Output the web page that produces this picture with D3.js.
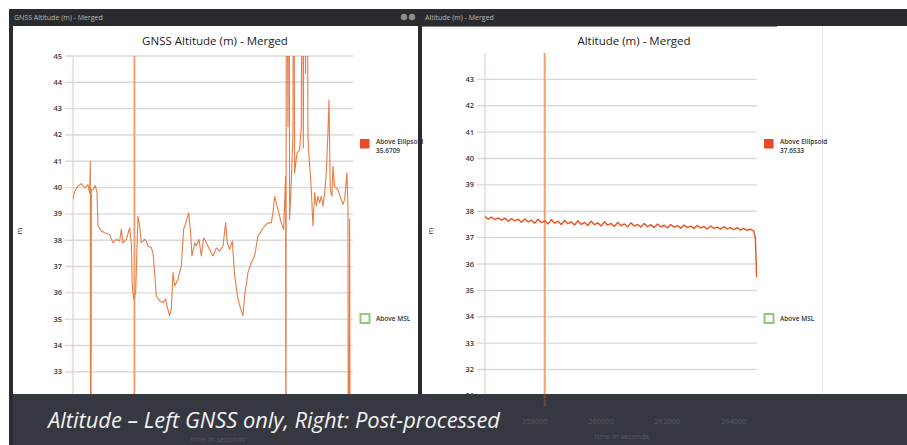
<!DOCTYPE html>
<html>
<head>
<meta charset="utf-8">
<script src="https://cdn.jsdelivr.net/npm/d3@7"></script>
<style>
  body { margin: 0; background: #fff; }
  svg { display: block; font-family: "Open Sans", "Noto Sans", sans-serif; }
</style>
</head>
<body>
<script>
// GNSS only altitude (left), time in seconds / metres
let leftTime = [256500, 256549, 256646, 256744, 256842, 256939, 256988, 257008, 257017, 257037, 257086, 257154, 257203, 257232,
  257330, 257427, 257574, 257671, 257769, 257866, 257915, 257964, 258062, 258159, 258208, 258237, 258276, 258335, 258403,
  258452, 258501, 258598, 258647, 258696, 258794, 258842, 258891, 258940, 259038, 259135, 259213, 259252, 259330, 259379,
  259428, 259477, 259574, 259672, 259740, 259818, 259887, 259945, 259984, 260062, 260111, 260189, 260258, 260326, 260404,
  260502, 260599, 260697, 260794, 260892, 260970, 261019, 261087, 261165, 261234, 261331, 261400, 261478, 261526, 261624,
  261722, 261819, 261917, 262014, 262112, 262210, 262307, 262356, 262405, 262502, 262600, 262668, 262727, 262737, 262746,
  262795, 262824, 262844, 262893, 262942, 262961, 262990, 263059, 263137, 263186, 263215, 263244, 263283, 263312, 263352,
  263381, 263410, 263449, 263478, 263527, 263576, 263625, 263674, 263722, 263771, 263820, 263869, 263918, 263966, 263996,
  264035, 264083, 264113, 264162, 264259, 264357, 264406, 264455, 264523, 264552, 264572, 264601, 264630];
let leftAlt = [39.55, 39.86, 40.05, 40.15, 39.99, 40.11, 39.8, 41.0, 20, 39.92, 39.92, 40.08, 39.8, 38.54,
  38.35, 38.28, 38.22, 37.9, 38.03, 37.97, 38.41, 37.9, 38.03, 38.47, 37.9, 36.26, 35.76, 36.0, 38.91,
  38.54, 37.9, 38.03, 37.97, 37.78, 37.71, 37.53, 36.77, 35.88, 35.69, 35.63, 35.76, 35.5, 35.13, 35.38,
  36.77, 36.26, 36.52, 37.02, 38.41, 38.72, 39.04, 38.28, 37.4, 37.9, 37.78, 38.03, 37.4, 38.09, 37.9,
  37.65, 37.4, 37.71, 37.59, 37.78, 38.66, 37.9, 37.65, 37.97, 36.64, 35.76, 35.44, 35.13, 35.88, 36.77,
  37.15, 37.4, 38.16, 38.35, 38.54, 38.66, 38.66, 39.04, 39.67, 39.17, 38.66, 38.41, 40.43, 20, 55,
  42.32, 55, 38.79, 40.18, 42.07, 55, 40.56, 41.31, 41.44, 42.32, 55, 41.5, 55, 44.34,
  55, 42.0, 41.19, 40.56, 39.92, 38.54, 39.8, 39.3, 39.67, 39.42, 39.67, 39.3, 39.8, 40.56, 42.07, 43.33,
  39.92, 39.67, 40.81, 40.05, 39.92, 39.55, 39.36, 39.55, 40.56, 39.3, 20, 38.8, 20];

// post-processed altitude (right)
let rightTime = [256500, 256600, 256700, 256800, 256900, 257000, 257100, 257200, 257300, 257400, 257500, 257600, 257700,
  257800, 257900, 258000, 258100, 258200, 258300, 258400, 258500, 258600, 258700, 258800, 258900, 259000, 259100, 259200,
  259300, 259400, 259500, 259600, 259700, 259800, 259900, 260000, 260100, 260200, 260300, 260400, 260500, 260600, 260700,
  260800, 260900, 261000, 261100, 261200, 261300, 261400, 261500, 261600, 261700, 261800, 261900, 262000, 262100, 262200,
  262300, 262400, 262500, 262600, 262700, 262800, 262900, 263000, 263100, 263200, 263300, 263400, 263500, 263600, 263700,
  263800, 263900, 264000, 264100, 264200, 264300, 264400, 264500, 264600, 264650, 264690];
let rightAlt = [37.80, 37.70, 37.78, 37.68, 37.75, 37.66, 37.74, 37.62, 37.72, 37.64, 37.70, 37.58, 37.71, 37.60, 37.66,
  37.55, 37.70, 37.57, 37.64, 37.52, 37.68, 37.55, 37.62, 37.50, 37.66, 37.53, 37.60, 37.48, 37.64, 37.50, 37.58, 37.46,
  37.62, 37.49, 37.56, 37.44, 37.60, 37.47, 37.54, 37.42, 37.58, 37.45, 37.52, 37.41, 37.56, 37.44, 37.50, 37.40, 37.54,
  37.42, 37.49, 37.38, 37.52, 37.41, 37.47, 37.37, 37.50, 37.40, 37.46, 37.36, 37.48, 37.38, 37.44, 37.35, 37.46, 37.37,
  37.42, 37.33, 37.44, 37.35, 37.40, 37.32, 37.42, 37.33, 37.38, 37.30, 37.38, 37.29, 37.35, 37.28, 37.32, 37.25,
  37.00, 35.50];

let cursorTime = 258300;
let leftTicks = [32, 33, 34, 35, 36, 37, 38, 39, 40, 41, 42, 43, 44, 45];
let rightTicks = [31, 32, 33, 34, 35, 36, 37, 38, 39, 40, 41, 42, 43];
let timeTicks = [258000, 260000, 262000, 264000];
let legendValues = ["35.6709", "37.6533"];
let caption = "Altitude \u2013 Left GNSS only, Right: Post-processed";

let W = 907, H = 445;
let svg = d3.select("body").append("svg").attr("width", W).attr("height", H);

// window frames
svg.append("rect").attr("x", 9).attr("y", 9).attr("width", W - 9).attr("height", H - 9).attr("fill", "#2a2b2f");
svg.append("rect").attr("x", 13).attr("y", 26).attr("width", 405).attr("height", H - 26).attr("fill", "#fff");
svg.append("rect").attr("x", 422).attr("y", 26).attr("width", W - 422).attr("height", H - 26).attr("fill", "#fff");
svg.append("line").attr("x1", 822.5).attr("x2", 822.5).attr("y1", 26).attr("y2", H).attr("stroke", "#e6e6e6");
svg.append("line").attr("x1", 422).attr("x2", 777).attr("y1", 26.5).attr("y2", 26.5).attr("stroke", "#8a8a8a");

svg.append("text").attr("x", 14).attr("y", 20).attr("font-size", 7).attr("fill", "#b8b8b8").text("GNSS Altitude (m) - Merged");
svg.append("text").attr("x", 425).attr("y", 20).attr("font-size", 7).attr("fill", "#b8b8b8").text("Altitude (m) - Merged");
svg.append("circle").attr("cx", 404).attr("cy", 17).attr("r", 3.2).attr("fill", "#8d8d8d");
svg.append("circle").attr("cx", 412).attr("cy", 17).attr("r", 3.2).attr("fill", "#8d8d8d");

function drawPanel(opt) {
  let g = svg.append("g");
  let x = d3.scaleLinear().domain([256500, 264700]).range([opt.left, opt.right]);
  let y = d3.scaleLinear().domain(opt.yDomain).range([opt.bottom, opt.top]);

  let clipId = "clip" + opt.id;
  g.append("clipPath").attr("id", clipId).append("rect")
    .attr("x", opt.left).attr("y", opt.top).attr("width", opt.right - opt.left).attr("height", opt.bottom - opt.top);

  // title
  g.append("text").attr("x", opt.titleX).attr("y", 45).attr("text-anchor", "middle")
    .attr("font-size", 11.5).attr("fill", "#222").text(opt.title);

  // grid + y labels
  g.selectAll(".grid").data(opt.ticks).enter().append("line")
    .attr("x1", opt.left - 8).attr("x2", opt.right)
    .attr("y1", d => y(d)).attr("y2", d => y(d))
    .attr("stroke", "#dadada").attr("stroke-width", 1.4);
  g.selectAll(".ylab").data(opt.ticks).enter().append("text")
    .attr("x", opt.left - 11).attr("y", d => y(d) + 2.5).attr("text-anchor", "end")
    .attr("font-size", 7.5).attr("font-weight", 600).attr("fill", "#3a3a3a").text(d => d);

  g.append("line").attr("x1", opt.left).attr("x2", opt.left).attr("y1", opt.top).attr("y2", opt.bottom)
    .attr("stroke", "#e7cfc6").attr("stroke-width", 1.2);
  g.append("line").attr("x1", opt.left).attr("x2", opt.right).attr("y1", opt.bottom).attr("y2", opt.bottom)
    .attr("stroke", "#d0d0d0");

  g.append("text").attr("transform", "translate(" + opt.mX + ",231) rotate(-90)")
    .attr("text-anchor", "middle").attr("font-size", 7).attr("fill", "#333").text("m");

  // cursor
  g.append("line").attr("x1", x(cursorTime)).attr("x2", x(cursorTime)).attr("y1", opt.top).attr("y2", opt.bottom)
    .attr("stroke", "#f2a16b").attr("stroke-width", 2);

  let line = d3.line().x((d, i) => x(opt.time[i])).y(d => y(d));
  g.append("path").datum(opt.values).attr("d", line).attr("clip-path", "url(#" + clipId + ")")
    .attr("fill", "none").attr("stroke", opt.color).attr("stroke-width", opt.width).attr("stroke-linejoin", "round");

  // legend
  let lx = opt.legendX;
  g.append("rect").attr("x", lx).attr("y", 139).attr("width", 9.5).attr("height", 9.5).attr("fill", "#e64a26");
  g.append("text").attr("x", lx + 16).attr("y", 144).attr("font-size", 6.5).attr("font-weight", 600).attr("fill", "#333").text("Above Ellipsoid");
  g.append("text").attr("x", lx + 16).attr("y", 153).attr("font-size", 6.5).attr("font-weight", 600).attr("fill", "#333").text(opt.legendValue);
  g.append("rect").attr("x", lx + 0.5).attr("y", 314).attr("width", 9).attr("height", 9)
    .attr("fill", "#fff").attr("stroke", "#8fc97a").attr("stroke-width", 2);
  g.append("text").attr("x", lx + 16).attr("y", 321).attr("font-size", 6.5).attr("font-weight", 600).attr("fill", "#333").text("Above MSL");

  return x;
}

let xLeft = drawPanel({ id: "L", left: 73, right: 353, top: 56, bottom: 406, yDomain: [31.7, 45],
  ticks: leftTicks, time: leftTime, values: leftAlt, color: "#e97c45", width: 1.1,
  title: "GNSS Altitude (m) - Merged", titleX: 215, mX: 22, legendX: 360, legendValue: legendValues[0] });
let xRight = drawPanel({ id: "R", left: 485, right: 757, top: 53, bottom: 407, yDomain: [30.58, 44],
  ticks: rightTicks, time: rightTime, values: rightAlt, color: "#e9521f", width: 1.4,
  title: "Altitude (m) - Merged", titleX: 634, mX: 433, legendX: 764, legendValue: legendValues[1] });

// clip left panel contents at its frame
svg.append("rect").attr("x", 418).attr("y", 9).attr("width", 4).attr("height", H - 9).attr("fill", "#2a2b2f");
svg.append("rect").attr("x", 0).attr("y", 9).attr("width", 9).attr("height", H - 9).attr("fill", "#fff");
svg.append("rect").attr("x", 9).attr("y", 9).attr("width", 4).attr("height", H - 9).attr("fill", "#2a2b2f");

// caption band
svg.append("rect").attr("x", 13).attr("y", 394).attr("width", W - 13).attr("height", H - 394).attr("fill", "#353841");
svg.append("line").attr("x1", xRight(cursorTime)).attr("x2", xRight(cursorTime)).attr("y1", 394).attr("y2", 407)
  .attr("stroke", "#6a4a3e").attr("stroke-width", 2);

// right time axis shows faintly through the band; left one is hidden under the caption
svg.selectAll(null).data(timeTicks).enter().append("text")
  .attr("x", d => xRight(d)).attr("y", 424).attr("text-anchor", "middle")
  .attr("font-size", 7.5).attr("fill", "#555966").text(d => d);
[[218, 442], [622, 439]].forEach(([mid, yy]) => {
  svg.append("text").attr("x", mid).attr("y", yy).attr("text-anchor", "middle")
    .attr("font-size", 7.5).attr("fill", "#555966").text("time in seconds");
});

svg.append("text").attr("x", 48).attr("y", 428).attr("font-size", 21).attr("font-style", "italic")
  .attr("fill", "#f2f2f2").attr("textLength", 452).attr("lengthAdjust", "spacingAndGlyphs").text(caption);
</script>
</body>
</html>
